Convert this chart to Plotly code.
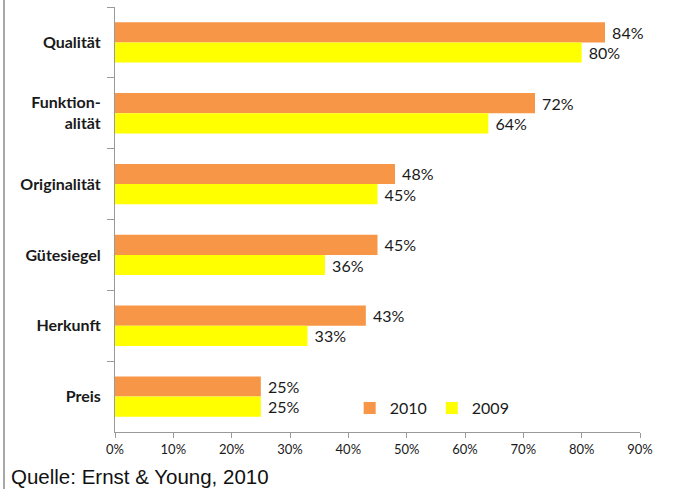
import plotly.graph_objects as go

categories = ["Qualität", "Funktion-<br>alität", "Originalität", "Gütesiegel", "Herkunft", "Preis"]
values_2010 = [0.84, 0.72, 0.48, 0.45, 0.43, 0.25]
values_2009 = [0.80, 0.64, 0.45, 0.36, 0.33, 0.25]
tick_vals = [0, 0.1, 0.2, 0.3, 0.4, 0.5, 0.6, 0.7, 0.8, 0.9]

lab_font = dict(family="Lato, Open Sans, sans-serif", size=16, color="#1a1a1a")

fig = go.Figure()
fig.add_trace(go.Bar(
    y=categories, x=values_2010, name="2010", orientation="h",
    marker=dict(color="#F79646", line=dict(width=0)),
    text=[f"\u00a0{round(v*100)}%" for v in values_2010], textposition="outside",
    textfont=lab_font, cliponaxis=False,
))
fig.add_trace(go.Bar(
    y=categories, x=values_2009, name="2009", orientation="h",
    marker=dict(color="#FFFF00", line=dict(width=0)),
    text=[f"\u00a0{round(v*100)}%" for v in values_2009], textposition="outside",
    textfont=lab_font, cliponaxis=False,
))

fig.update_layout(
    width=683, height=489,
    margin=dict(l=115, r=43, t=7, b=57),
    paper_bgcolor="white", plot_bgcolor="white",
    barmode="group", bargap=0.43, bargroupgap=0,
    showlegend=True,
    legend=dict(orientation="h", x=0.447, y=0.056, xanchor="left", yanchor="middle",
                font=dict(family="Lato, Open Sans, sans-serif", size=16, color="#1a1a1a"),
                bgcolor="rgba(0,0,0,0)", traceorder="normal", itemwidth=30),
    xaxis=dict(range=[0, 0.9], tickvals=tick_vals, tickformat=".0%",
               showgrid=False, zeroline=False, showline=True, linecolor="#9a9a9a", linewidth=1,
               ticks="outside", ticklen=5, tickcolor="#9a9a9a",
               tickfont=dict(family="Liberation Sans Narrow, Lato, sans-serif", size=13, color="#1a1a1a")),
    yaxis=dict(autorange="reversed", showgrid=False, zeroline=False,
               showline=True, linecolor="#9a9a9a", linewidth=1,
               ticks="outside", ticklen=7, tickcolor="#9a9a9a", tickson="boundaries",
               ticklabelstandoff=10,
               tickfont=dict(family="Lato, Open Sans, sans-serif", size=16, color="#1a1a1a", weight="bold")),
    font=dict(family="Lato, sans-serif"),
    shapes=[dict(type="line", xref="paper", yref="paper",
                 x0=-0.2114, x1=-0.2114, y0=-1, y1=2,
                 line=dict(color="#8c8c8c", width=1.5))],
    annotations=[dict(text="Quelle: Ernst & Young, 2010", xref="paper", yref="paper",
                      x=-0.202, y=-0.105, xanchor="left", yanchor="middle", showarrow=False,
                      font=dict(family="Liberation Sans, Arial, sans-serif", size=20.5, color="#111111"))],
)

fig.write_html("out.html")
